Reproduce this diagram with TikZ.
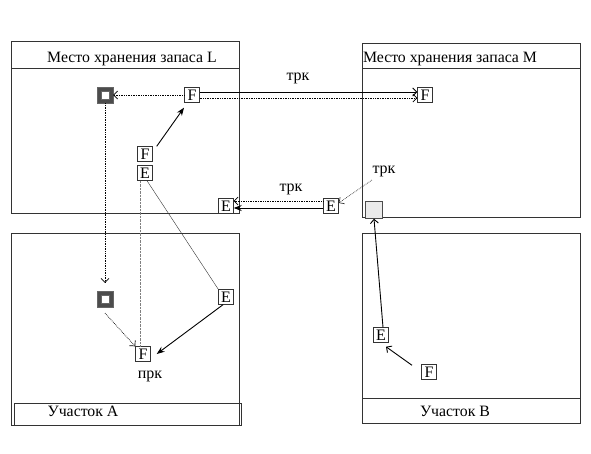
\documentclass[tikz,border=0pt]{standalone}
\usepackage{fontspec}
\setmainfont{Liberation Serif}
\usetikzlibrary{arrows.meta}

\begin{document}
\begin{tikzpicture}[x=1pt, y=-1pt,
    every node/.style={font=\fontsize{16}{16}\selectfont},
    title/.style={font=\fontsize{15.8}{16}\selectfont},
    area/.style={draw=black!80, line width=0.8pt},
    item/.style={draw=black!80, fill=white, minimum size=15pt, inner sep=0pt,
        font=\fontsize{16}{16}\selectfont},
    store/.style={draw=black!60, fill=black!70, minimum size=16pt, inner sep=0pt,
        path picture={\draw[fill=white, line width=0.6pt]
            ([shift={(-3.8pt,-3.8pt)}]path picture bounding box.center) rectangle
            ([shift={(3.8pt,3.8pt)}]path picture bounding box.center);}},
    spot/.style={draw=black!70, fill=black!8, minimum size=17pt, inner sep=0pt},
    flow/.style={-{Stealth[length=8pt, width=6pt]}, line width=0.9pt},
    move/.style={-{Straight Barb[length=4pt, width=8pt]}, line width=0.9pt},
    back/.style={densely dotted, -{Straight Barb[length=4pt, width=8pt]}, line width=0.7pt}]
    \useasboundingbox (0,0) rectangle (591,453);

    % areas
    \draw[area] (11,41) rectangle (239,213);
    \draw[area] (11,68) -- (239,68);
    \draw[area] (362,43) rectangle (580,217);
    \draw[area] (362,68) -- (580,68);
    \draw[area] (11,233) rectangle (239,425);
    \draw[area] (14,403) rectangle (241,425);
    \draw[area] (362,233) rectangle (580,423);
    \draw[area] (362,398) -- (580,398);

    \node[title] (tL) at (132,59) {Место хранения запаса L};
    \node[title] (tM) at (450,59) {Место хранения запаса M};
    \node[title] (tA) at (83,411) {Участок A};
    \node[title] (tB) at (455,411) {Участок B};

    % store L
    \node[store] (sL) at (105,95) {};
    \node[item] (fL) at (192,95) {F};
    \node[item] (fL2) at (145,154) {F};
    \node[item] (eL) at (145,173) {E};
    \node[item] (eL2) at (226,206) {E};

    % store M
    \node[item] (fM) at (425,95) {F};
    \node[item] (eM) at (331,206) {E};
    \node[spot] (sM) at (374,210) {};

    % area A
    \node[store] (sA) at (105,299) {};
    \node[item] (eA) at (226,297) {E};
    \node[item] (fA) at (143,354) {F};

    % area B
    \node[item] (eB) at (381,335) {E};
    \node[item] (fB) at (429,372) {F};

    \node (k1) at (298,78) {трк};
    \node (k2) at (291,189) {трк};
    \node (k3) at (384,171) {трк};
    \node (k4) at (150,376) {прк};

    % flows
    \draw[move] ([yshift=3pt]fL.east) -- ([yshift=3pt]fM.west);
    \draw[back] ([yshift=-3pt]fL.east) -- ([yshift=-3pt]fM.west);
    \draw[back] (fL.west) -- (sL.east);
    \draw[flow] ([shift={(4pt,0pt)}]fL2.north east) -- ([shift={(-8pt,-5pt)}]fL.south);
    \draw[flow] ([yshift=-2pt]eM.west) -- ([yshift=-2pt]eL2.east);
    \draw[back] ([yshift=5pt]eM.west) -- ([yshift=5pt]eL2.east);
    \draw[back, black!80] ([xshift=-12pt]k3.south) -- ([yshift=3pt]eM.east);
    \draw[back] (sL.south) -- ([yshift=8pt]sA.north);
    \draw[back] ([yshift=-6pt]sA.south) -- (fA.north west);
    \draw[densely dotted, black!50] ([xshift=-5pt]eL.south) -- ([xshift=-3pt]fA.north);
    \draw[black!80] ([xshift=2pt]eL.south) -- (eA.north west);
    \draw[flow] ([xshift=-3pt]eA.south) -- ([xshift=6pt]fA.east);
    \draw[move] ([xshift=2pt]eB.north) -- (sM.south);
    \draw[move] ([shift={(-17pt,-1pt)}]fB.north) -- ([shift={(5pt,-4pt)}]eB.south);
\end{tikzpicture}
\end{document}
